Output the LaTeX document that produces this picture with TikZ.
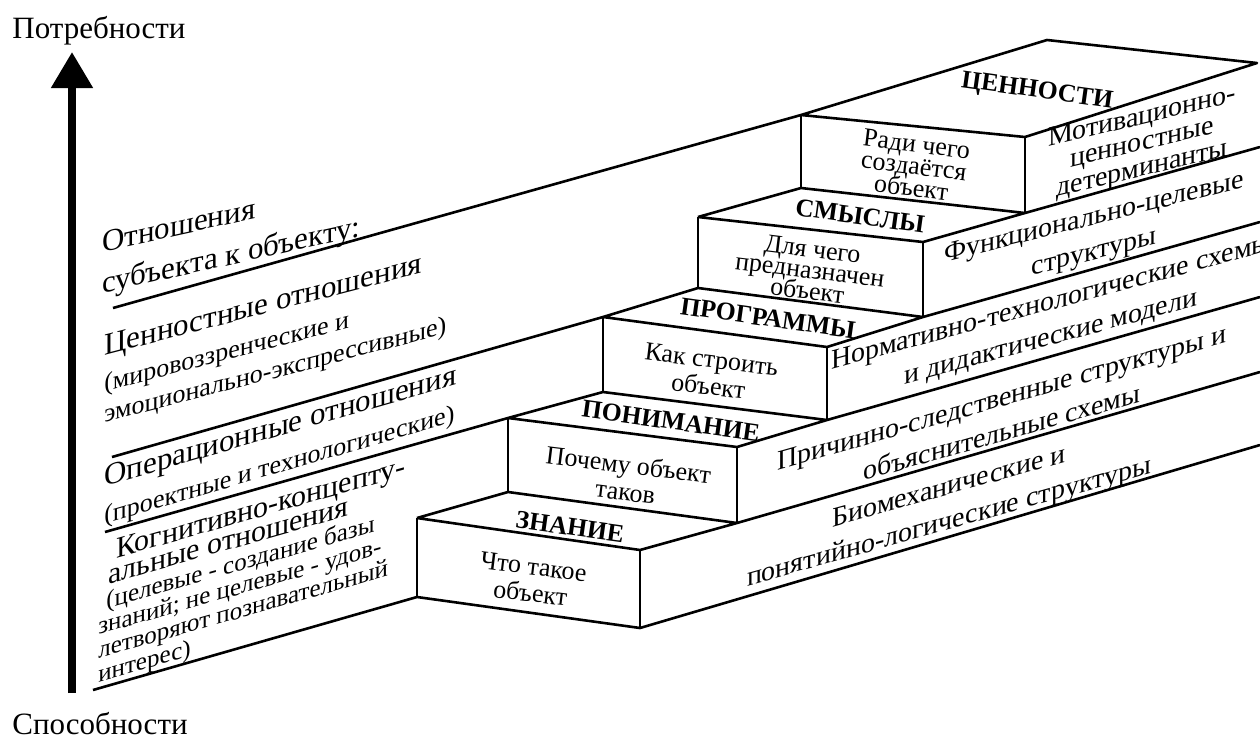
\documentclass[tikz,border=0pt]{standalone}
\usepackage{fontspec}
\setmainfont{Liberation Serif}
\usetikzlibrary{arrows.meta}
\lineskiplimit=-\maxdimen

\begin{document}
\begin{tikzpicture}[x=0.5pt,y=-0.5pt,line width=1.3pt,line join=round,
    face/.style={font=\fontsize{13}{13.5}\selectfont,align=center,rotate=-7,inner sep=0pt},
    tread/.style={font=\fontsize{12.8}{14}\selectfont\bfseries,rotate=-8,inner sep=0pt},
    band/.style={font=\fontsize{14}{17.5}\selectfont,align=center,transform shape,yslant=#1,inner sep=0pt},
    rel/.style={align=left,anchor=west,transform shape,yslant=#1,inner sep=0pt},
    pole/.style={font=\fontsize{15.5}{18}\selectfont,anchor=base,inner sep=0pt}]
  \path[use as bounding box,clip] (0,0) rectangle (1260,740);

  \coordinate (nw1) at (417,518); \coordinate (ne1) at (640,550); \coordinate (sw1) at (417,597); \coordinate (se1) at (640,628);
  \coordinate (nw2) at (508,418); \coordinate (ne2) at (737,447); \coordinate (sw2) at (508,492); \coordinate (se2) at (737,523);
  \coordinate (nw3) at (603,317); \coordinate (ne3) at (827,347); \coordinate (sw3) at (603,392); \coordinate (se3) at (827,420);
  \coordinate (nw4) at (698,217); \coordinate (ne4) at (923,242); \coordinate (sw4) at (698,288); \coordinate (se4) at (923,317);
  \coordinate (nw5) at (801,115); \coordinate (ne5) at (1025,137); \coordinate (sw5) at (801,188); \coordinate (se5) at (1025,213);
  \coordinate (t5) at (1047,40); \coordinate (e0) at (1257,63);
  \coordinate (e1) at (1260,147); \coordinate (e2) at (1260,222); \coordinate (e3) at (1260,297);
  \coordinate (e4) at (1260,372); \coordinate (e5) at (1260,445);
  \coordinate (l1) at (113,308); \coordinate (l2) at (112,457); \coordinate (l3) at (105,532); \coordinate (l4) at (93,690);

  \draw (l1) -- (nw5) (nw5) -- (t5) -- (e0) -- (ne5) -- cycle
        (sw5) -- (se5) -- (e1)
        (nw4) -- (sw5) (nw4) -- (ne4) -- (se5) (sw4) -- (se4) -- (e2)
        (l2) -- (nw3) -- (sw4) (nw3) -- (ne3) -- (se4) (sw3) -- (se3) -- (e3)
        (l3) -- (nw2) -- (sw3) (nw2) -- (ne2) -- (se3) (sw2) -- (se2) -- (e4)
        (nw1) -- (sw2) (nw1) -- (ne1) -- (se2) (l4) -- (sw1) -- (se1) -- (e5);
  \draw[line width=1pt] (nw1) -- (sw1) (ne1) -- (se1) (nw2) -- (sw2) (ne2) -- (se2)
        (nw3) -- (sw3) (ne3) -- (se3) (nw4) -- (sw4) (ne4) -- (se4) (nw5) -- (sw5) (ne5) -- (se5);

  \node[face] (f1) at (532,580) {Что такое\\объект};
  \node[face] (f2) at (627,478) {Почему объект\\таков};
  \node[face] (f3) at (710,373) {Как строить\\объект};
  \node[face,font=\fontsize{13}{10.5}\selectfont] (f4) at (810,270) {Для чего\\предназначен\\объект};
  \node[face,font=\fontsize{13}{11}\selectfont] (f5) at (914,166) {Ради чего\\создаётся\\объект};

  \node[tread] (k1) at (570,527) {ЗНАНИЕ};
  \node[tread] (k2) at (671,421) {ПОНИМАНИЕ};
  \node[tread] (k3) at (768,318) {ПРОГРАММЫ};
  \node[tread] (k4) at (860,216) {СМЫСЛЫ};
  \node[tread] (k5) at (1037,92) {ЦЕННОСТИ};

  \node[band=0.24,font=\fontsize{14}{13}\selectfont] (b5) at (1142,144) {Мотивационно-\\ценностные\\детерминанты};
  \node[band=0.25] (b4) at (1094,236) {Функционально-целевые\\структуры};
  \node[band=0.27] (b3) at (1051,321) {Нормативно-технологические схемы\\и дидактические модели};
  \node[band=0.285] (b2) at (1002,415) {Причинно-следственные структуры и\\объяснительные схемы};
  \node[band=0.28] (b1) at (949,506) {Биомеханические и\\понятийно-логические структуры};

  \node[rel=0.22,font=\fontsize{15.5}{20.5}\selectfont] (r0) at (101,266) {Отношения\\субъекта к объекту:};
  \node[rel=0.26,font=\fontsize{13}{15.5}\selectfont] (r1) at (103,382)
    {{\fontsize{15.5}{15.5}\selectfont Ценностные отношения}\\[2.5pt](мировоззренческие и\\эмоционально-экспрессивные)};
  \node[rel=0.29,font=\fontsize{13}{18.5}\selectfont] (r2) at (103,498)
    {{\fontsize{15.5}{18.5}\selectfont Операционные отношения}\\(проектные и технологические)};
  \node[rel=0.285,font=\fontsize{12.5}{11.9}\selectfont] (r3) at (97,616)
    {\hspace*{9pt}{\fontsize{15}{11.9}\selectfont Когнитивно-концепту-}\\\hspace*{5pt}{\fontsize{15}{11.9}\selectfont альные отношения}\\\hspace*{4pt}(целевые - создание базы\\знаний; не целевые - удов-\\летворяют познавательный\\интерес)};

  \coordinate (low) at (72,693); \coordinate (high) at (72,52);
  \draw[line width=4pt,-{Triangle[length=18pt,width=20pt]}] (low) -- (high);
  \node[pole] (need) at (99,38) {Потребности};
  \node[pole] (ability) at (100,734) {Способности};
\end{tikzpicture}
\end{document}
